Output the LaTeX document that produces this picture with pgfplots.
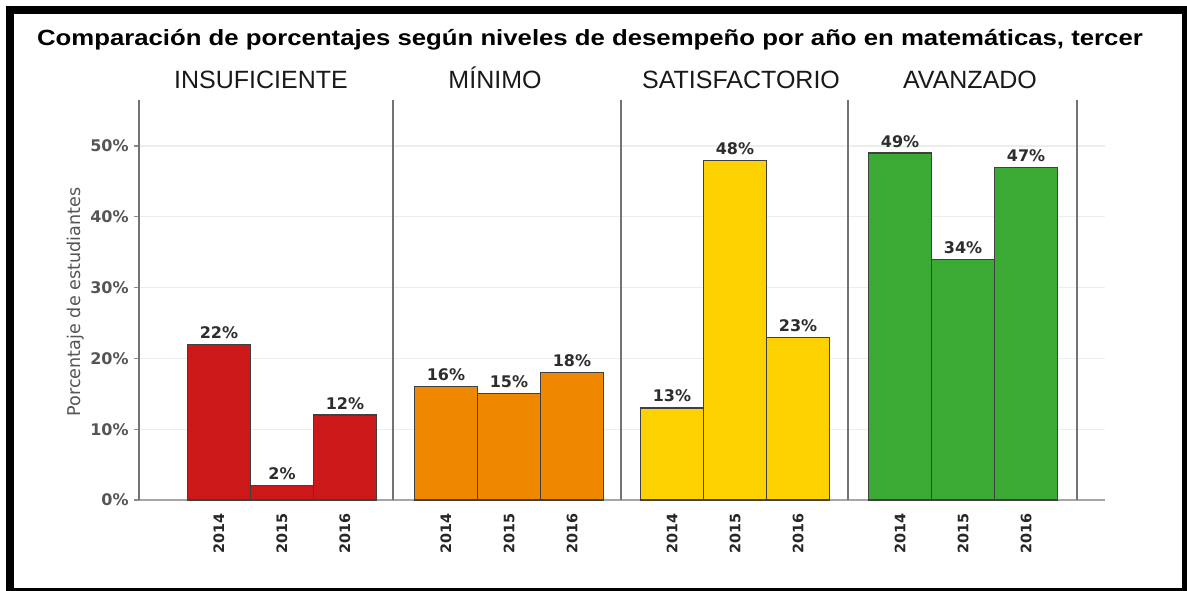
\documentclass[border=0pt]{standalone}
\usepackage{fontspec}
\setmainfont{Liberation Sans}
\newfontfamily\dejavu{DejaVu Sans}
\usepackage{graphicx}
\usepackage{pgfplots}
\pgfplotsset{compat=1.18}

\definecolor{cRed}{RGB}{205,24,26}
\definecolor{cOrange}{RGB}{240,135,0}
\definecolor{cYellow}{RGB}{253,210,0}
\definecolor{cGreen}{RGB}{59,170,53}
\definecolor{lblgray}{RGB}{85,85,85}
\definecolor{valgray}{RGB}{45,45,45}

% 1 px of the reference = 0.5pt
\pgfplotsset{
  barstyle/.style={ybar, bar shift=0pt, bar width=31.5pt, draw=black!75, line width=0.6pt,
    nodes near coords={\pgfmathprintnumber{\pgfplotspointmeta}\%},
    every node near coord/.append style={font=\dejavu\bfseries\fontsize{8}{9}\selectfont,
      text=valgray, anchor=base, inner sep=0pt, yshift=3pt}},
}

\begin{document}
\begin{tikzpicture}
\useasboundingbox (0,0) rectangle (593.5pt,-295pt);
% outer frame
\draw[line width=4pt] (5pt,-5pt) rectangle (593pt,-296pt);

\node[anchor=base, font=\bfseries\fontsize{11}{13}\selectfont] at (295pt,-22.5pt)
  {\scalebox{1.17}[1]{Comparación de porcentajes según niveles de desempeño por año en matemáticas, tercer}};

\begin{axis}[
  at={(69.5pt,-250pt)}, anchor=south west,
  scale only axis, width=483pt, height=200pt,
  xmin=139, xmax=1105, ymin=0, ymax=56.5,
  axis x line*=bottom, axis y line*=left,
  axis line style={-},
  x axis line style={black!35, line width=1pt},
  y axis line style={black!55, line width=1pt},
  /pgf/number format/assume math mode=true,
  xtick={219,282,345,446,509,572,672,735,798,900,963,1026},
  xticklabels={2014,2015,2016,2014,2015,2016,2014,2015,2016,2014,2015,2016},
  xtick style={draw=none},
  x tick label style={rotate=90, anchor=east, inner sep=0pt,
    font=\dejavu\bfseries\fontsize{7.2}{8}\selectfont, text=black!85},
  xticklabel shift=4pt,
  ytick={0,10,20,30,40,50},
  yticklabels={0\%,10\%,20\%,30\%,40\%,50\%},
  tick align=outside, major tick length=2.5pt,
  ytick style={black!45, line width=0.6pt},
  y tick label style={font=\dejavu\bfseries\fontsize{8}{9}\selectfont, text=lblgray, inner sep=0pt},
  yticklabel shift=2.5pt,
  ymajorgrids, grid style={black!7, line width=0.6pt},
  ylabel={Porcentaje de estudiantes},
  ylabel style={at={(axis description cs:-0.066,0.495)}, rotate=0, anchor=center,
    font=\dejavu\fontsize{8.8}{10}\selectfont, text=lblgray},
  clip=false,
]
% panel separators
\draw[black!55, line width=1pt] (axis cs:393,0) -- (axis cs:393,56.5);
\draw[black!55, line width=1pt] (axis cs:621,0) -- (axis cs:621,56.5);
\draw[black!55, line width=1pt] (axis cs:848,0) -- (axis cs:848,56.5);
\draw[black!55, line width=1pt] (axis cs:1077,0) -- (axis cs:1077,56.5);

% INSUFICIENTE
\addplot[barstyle, fill=cRed] coordinates {(219,22) (282,2) (345,12)};
% MINIMO
\addplot[barstyle, fill=cOrange] coordinates {(446,16) (509,15) (572,18)};
% SATISFACTORIO
\addplot[barstyle, fill=cYellow] coordinates {(672,13) (735,48) (798,23)};
% AVANZADO
\addplot[barstyle, fill=cGreen] coordinates {(900,49) (963,34) (1026,47)};
\end{axis}

\begin{scope}[every node/.style={anchor=base, font=\fontsize{12.5}{14}\selectfont, text=black!90}]
\node at (130.5pt,-44pt) {INSUFICIENTE};
\node at (247.5pt,-44pt) {MÍNIMO};
\node at (370.5pt,-44pt) {SATISFACTORIO};
\node at (485pt,-44pt) {AVANZADO};
\end{scope}
\end{tikzpicture}
\end{document}
